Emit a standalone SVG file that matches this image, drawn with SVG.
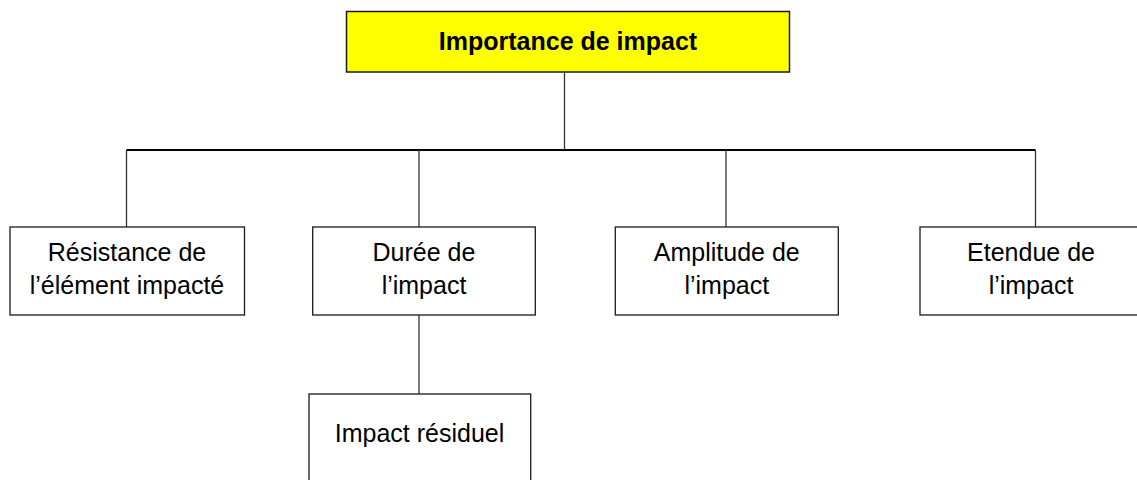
<svg xmlns="http://www.w3.org/2000/svg" width="1137" height="480" viewBox="0 0 1137 480">
<style>
.box{fill:#ffffff;stroke:#1a1a1a;stroke-width:1.3}
.title{fill:#ffff00;stroke:#1a1a1a;stroke-width:1.5}
.t{font-family:"Liberation Sans",Arial,sans-serif;font-size:25px;fill:#000;text-anchor:middle}
.tb{font-family:"Liberation Sans",Arial,sans-serif;font-size:25px;font-weight:bold;fill:#000;text-anchor:middle}
.v{stroke:#333;stroke-width:1.3;fill:none}
.h{stroke:#000;stroke-width:2;fill:none}
</style>
<rect width="1137" height="480" fill="#ffffff"/>
<g id="connectors">
<line class="v" x1="564.5" y1="72" x2="564.5" y2="150"/>
<line class="h" x1="126.5" y1="150" x2="1035.5" y2="150"/>
<line class="v" x1="126.5" y1="150" x2="126.5" y2="227"/>
<line class="v" x1="419" y1="150" x2="419" y2="227"/>
<line class="v" x1="726" y1="150" x2="726" y2="227"/>
<line class="v" x1="1035.5" y1="150" x2="1035.5" y2="227"/>
<line class="v" x1="419" y1="315" x2="419" y2="394"/>
</g>
<g id="node-importance">
<rect class="title" x="346.5" y="11.5" width="443" height="60.5"/>
<text class="tb" x="568" y="50">Importance de impact</text>
</g>
<g id="node-resistance">
<rect class="box" x="10" y="227" width="234.5" height="88"/>
<text class="t" x="127" y="261">Résistance de</text>
<text class="t" x="127" y="294">l’élément impacté</text>
</g>
<g id="node-duree">
<rect class="box" x="312.7" y="227" width="222.6" height="88"/>
<text class="t" x="424" y="261">Durée de</text>
<text class="t" x="424" y="294">l’impact</text>
</g>
<g id="node-amplitude">
<rect class="box" x="615.3" y="227" width="223" height="88"/>
<text class="t" x="726.8" y="261">Amplitude de</text>
<text class="t" x="726.8" y="294">l’impact</text>
</g>
<g id="node-etendue">
<rect class="box" x="920" y="227" width="222" height="88"/>
<text class="t" x="1031" y="261">Etendue de</text>
<text class="t" x="1031" y="294">l’impact</text>
</g>
<g id="node-residuel">
<rect class="box" x="309" y="394" width="221.7" height="100"/>
<text class="t" x="419.5" y="442">Impact résiduel</text>
</g>
</svg>
